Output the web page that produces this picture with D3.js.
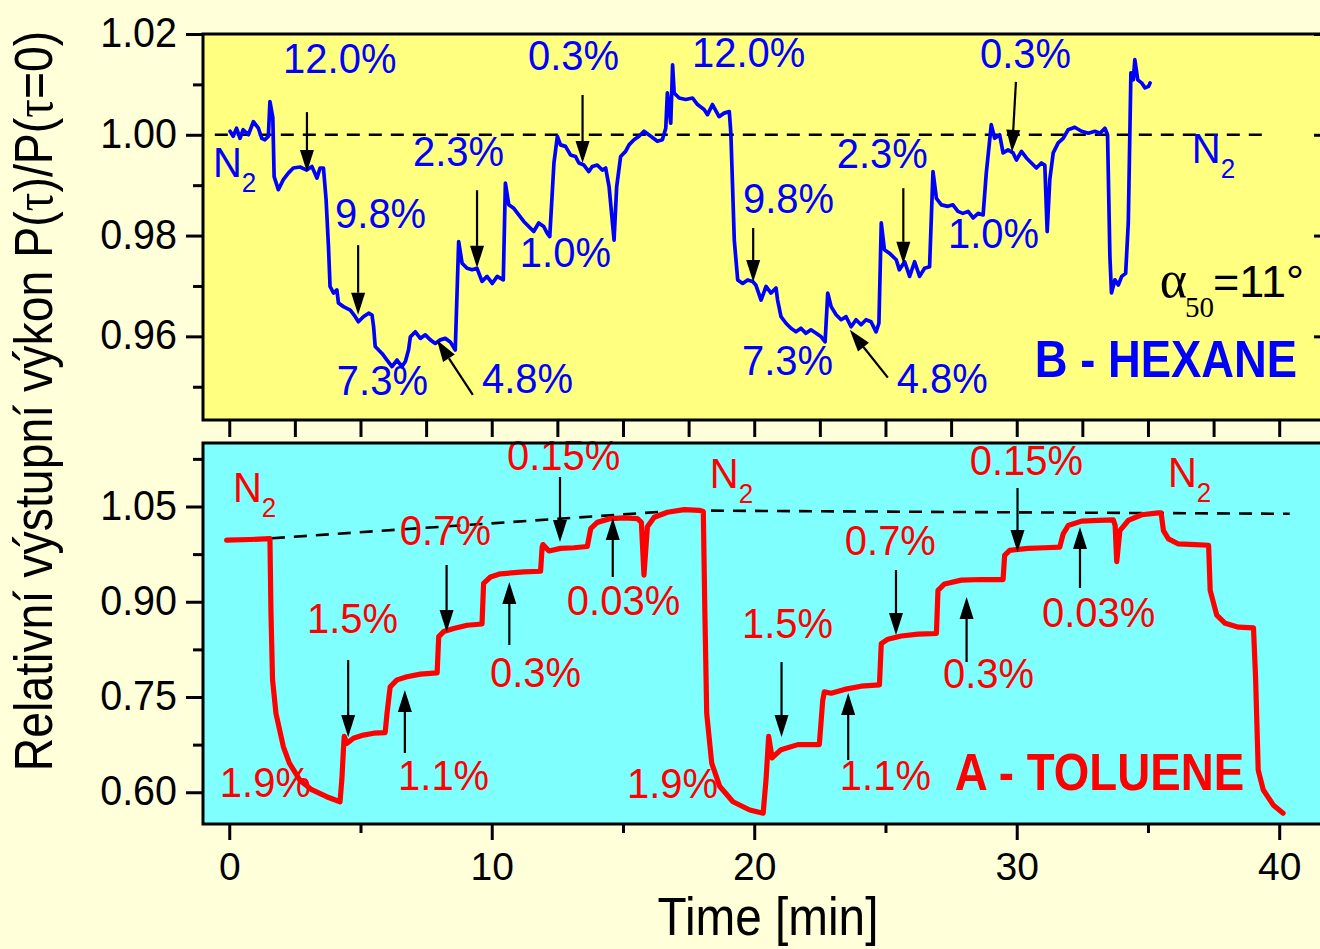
<!DOCTYPE html>
<html><head><meta charset="utf-8">
<script src="https://cdn.jsdelivr.net/npm/d3@7"></script>
<style>html,body{margin:0;padding:0;background:#FFFFDA;} svg{display:block;}</style>
</head><body>
<svg id="c" width="1320" height="949"></svg>
<script>
// ---------------- DATA ----------------
const hexaneTime = [0.03,0.15,0.28,0.41,0.53,0.73,0.92,1.11,1.24,1.36,1.49,1.55,1.66,1.71,1.87,2.06,2.25,2.44,2.70,2.95,3.15,3.34,3.46,3.59,3.69,3.78,3.84,3.97,4.10,4.16,4.35,4.61,4.80,4.92,5.11,5.31,5.44,5.50,5.56,5.82,6.01,6.20,6.39,6.58,6.71,6.83,6.90,7.09,7.28,7.47,7.66,7.85,8.04,8.23,8.42,8.61,8.74,8.87,9.06,9.25,9.44,9.63,9.82,10.02,10.21,10.44,10.52,10.65,10.84,11.03,11.22,11.41,11.60,11.79,11.98,12.11,12.21,12.37,12.50,12.62,12.81,13.00,13.19,13.32,13.51,13.70,13.83,14.02,14.21,14.34,14.47,14.66,14.76,14.91,15.10,15.23,15.42,15.61,15.80,16.06,16.31,16.50,16.63,16.69,16.82,16.89,16.95,17.14,17.39,17.65,17.84,18.09,18.22,18.41,18.66,18.85,19.05,19.11,19.24,19.37,19.56,19.75,19.94,20.06,20.26,20.45,20.64,20.83,20.89,21.02,21.21,21.40,21.59,21.78,21.97,22.16,22.36,22.55,22.70,22.80,22.93,23.12,23.31,23.50,23.69,23.88,24.07,24.26,24.45,24.64,24.75,24.84,24.96,25.15,25.41,25.53,25.73,25.92,26.11,26.30,26.49,26.68,26.81,26.94,27.13,27.38,27.57,27.76,27.95,28.15,28.34,28.53,28.72,28.84,29.03,29.16,29.35,29.48,29.67,29.86,29.99,30.18,30.37,30.56,30.75,30.94,31.07,31.16,31.26,31.39,31.58,31.77,31.96,32.21,32.47,32.73,32.98,33.17,33.36,33.46,33.55,33.61,33.74,33.87,34.00,34.15,34.25,34.35,34.44,34.50,34.61,34.76,34.89,35.02,35.08];
const hexaneValue = [1.0007,0.9997,1.0013,0.9993,1.0010,1.0000,1.0026,1.0013,0.9993,0.9990,0.9997,1.0066,1.0034,0.9917,0.9891,0.9911,0.9924,0.9934,0.9936,0.9930,0.9937,0.9914,0.9934,0.9934,0.9871,0.9778,0.9699,0.9686,0.9692,0.9666,0.9659,0.9652,0.9639,0.9629,0.9639,0.9646,0.9642,0.9619,0.9580,0.9566,0.9553,0.9540,0.9553,0.9540,0.9550,0.9573,0.9599,0.9609,0.9596,0.9603,0.9593,0.9586,0.9593,0.9596,0.9589,0.9573,0.9788,0.9745,0.9735,0.9732,0.9735,0.9709,0.9719,0.9705,0.9719,0.9712,0.9904,0.9861,0.9854,0.9841,0.9828,0.9818,0.9808,0.9825,0.9818,0.9805,0.9798,0.9944,0.9997,0.9980,0.9977,0.9960,0.9957,0.9944,0.9940,0.9927,0.9937,0.9940,0.9930,0.9934,0.9897,0.9791,0.9897,0.9957,0.9967,0.9980,0.9990,0.9997,1.0007,0.9997,0.9987,0.9990,1.0013,1.0083,1.0023,1.0139,1.0083,1.0073,1.0070,1.0073,1.0060,1.0050,1.0040,1.0060,1.0036,1.0043,1.0046,1.0003,0.9791,0.9712,0.9705,0.9712,0.9709,0.9702,0.9672,0.9699,0.9686,0.9696,0.9672,0.9639,0.9626,0.9616,0.9609,0.9616,0.9606,0.9613,0.9606,0.9599,0.9589,0.9686,0.9659,0.9643,0.9633,0.9639,0.9619,0.9633,0.9623,0.9633,0.9629,0.9609,0.9626,0.9825,0.9772,0.9765,0.9752,0.9732,0.9748,0.9719,0.9748,0.9719,0.9735,0.9738,0.9927,0.9874,0.9861,0.9858,0.9861,0.9848,0.9844,0.9848,0.9835,0.9844,0.9841,0.9924,1.0020,0.9993,1.0000,0.9964,0.9970,0.9964,0.9950,0.9967,0.9954,0.9944,0.9934,0.9944,0.9940,0.9808,0.9911,0.9964,0.9984,0.9993,1.0010,1.0015,1.0007,1.0003,1.0007,1.0003,1.0013,1.0000,0.9758,0.9686,0.9712,0.9702,0.9719,0.9725,0.9825,1.0123,1.0109,1.0149,1.0109,1.0103,1.0093,1.0096,1.0103];

const tolueneTime = [-0.10,0.79,1.55,1.59,1.65,1.78,2.06,2.29,2.69,3.14,3.71,4.22,4.29,4.35,4.38,4.48,4.73,5.11,5.50,5.94,6.01,6.13,6.39,6.77,7.28,7.92,7.98,8.17,8.55,9.06,9.63,9.69,9.95,10.33,11.22,11.86,11.92,11.95,12.18,12.62,13.13,13.64,13.77,14.02,14.53,15.04,15.55,15.70,15.80,15.93,16.19,16.69,17.33,17.90,18.06,18.12,18.19,18.38,18.69,19.19,19.83,20.34,20.45,20.55,20.68,21.02,21.66,22.16,22.48,22.61,22.67,22.93,23.44,24.07,24.77,24.84,25.09,25.60,26.24,26.94,27.00,27.25,27.89,28.65,29.48,29.54,29.73,30.44,31.07,31.64,31.77,31.96,32.47,33.11,33.68,33.75,33.81,33.93,34.25,34.76,35.40,35.50,35.59,35.78,36.16,36.79,37.31,37.37,37.62,37.94,38.45,39.02,39.10,39.20,39.39,39.77,40.15];
const tolueneValue = [0.997,0.998,0.9995,0.882,0.777,0.724,0.672,0.646,0.619,0.604,0.593,0.585,0.620,0.667,0.688,0.677,0.685,0.690,0.693,0.694,0.724,0.766,0.777,0.782,0.786,0.788,0.845,0.853,0.858,0.863,0.865,0.929,0.939,0.944,0.947,0.948,0.986,0.990,0.980,0.984,0.985,0.987,1.015,1.025,1.031,1.032,1.031,1.025,0.942,1.018,1.033,1.041,1.045,1.044,1.042,0.882,0.724,0.646,0.609,0.585,0.572,0.567,0.620,0.688,0.654,0.667,0.675,0.675,0.675,0.745,0.758,0.756,0.762,0.767,0.769,0.834,0.841,0.846,0.849,0.850,0.918,0.928,0.934,0.935,0.935,0.973,0.981,0.984,0.985,0.986,1.007,1.020,1.027,1.028,1.029,1.020,0.963,1.012,1.028,1.037,1.040,1.040,1.012,0.999,0.991,0.990,0.989,0.918,0.879,0.866,0.860,0.859,0.780,0.635,0.604,0.580,0.567];

// dashed reference (N2 baseline) lines
const hexaneBaseTime = [-0.55, 39.35];
const hexaneBaseValue = [1.0, 1.0];
const tolueneBaseTime = [0.79, 17.2, 40.4];
const tolueneBaseValue = [0.9977, 1.0437, 1.0385];

// axis ticks
const xTickLabels = [0, 10, 20, 30, 40];
const xTicksBottom = [0, 5, 10, 15, 20, 25, 30, 35, 40];
const xTicksMid = [0,2.5,5,7.5,10,12.5,15,17.5,20,22.5,25,27.5,30,32.5,35,37.5,40];
const hexaneTicks = [0.96, 0.98, 1.00, 1.02];
const hexaneMinor = [0.95, 0.97, 0.99, 1.01];
const tolueneTicks = [0.60, 0.75, 0.90, 1.05];
const tolueneMinor = [0.675, 0.825, 0.975, 1.125];

// annotations (concentration labels) in data coordinates
const hexaneNoteText = ['12.0%','9.8%','7.3%','2.3%','4.8%','1.0%','0.3%','12.0%','9.8%','7.3%','2.3%','4.8%','1.0%','0.3%'];
const hexaneNoteTime = [2.05,4.03,4.10,7.00,9.63,11.07,11.38,17.63,19.57,19.53,23.14,25.43,27.38,28.60];
const hexaneNoteValue = [1.0123,0.9815,0.9484,0.9938,0.9488,0.9738,1.0129,1.0135,0.9845,0.9524,0.9934,0.9488,0.9775,1.0133];
const hexaneArrows = [[2.96,1.0045,2.96,0.9926],[4.91,0.9781,4.91,0.9643],[9.28,0.9484,7.91,0.9593],[9.44,0.9890,9.44,0.9736],[13.46,1.0079,13.46,0.9944],[19.96,0.9815,19.96,0.9708],[25.09,0.9518,23.64,0.9613],[25.68,0.9894,25.68,0.9744],[29.97,1.0105,29.82,0.9966]];
const hexaneN2 = [[-0.62,0.9916],[36.67,0.9944]];

const tolueneNoteText = ['1.9%','1.5%','1.1%','0.7%','0.3%','0.15%','0.03%','1.9%','1.5%','1.1%','0.7%','0.3%','0.15%','0.03%'];
const tolueneNoteTime = [-0.36,2.96,6.43,6.50,9.93,10.58,12.86,15.15,19.53,23.26,23.45,27.19,28.21,30.96];
const tolueneNoteValue = [0.5925,0.8508,0.6035,0.9894,0.7658,1.1075,0.8791,0.591,0.843,0.6035,0.9736,0.7642,1.0996,0.8602];
const tolueneArrows = [[4.53,0.8083,4.53,0.6870],[6.69,0.6618,6.69,0.7610],[8.28,0.9579,8.28,0.8524],[10.67,0.8319,10.67,0.9311],[12.60,1.0965,12.60,0.9941],[14.61,0.939,14.61,1.0319],[21.04,0.8051,21.04,0.687],[23.58,0.6508,23.58,0.7563],[25.40,0.95,25.40,0.8476],[28.09,0.8051,28.09,0.9075],[30.03,1.0791,30.03,0.9783],[32.41,0.9217,32.41,1.0178]];
const tolueneN2 = [[0.14,1.0571],[18.31,1.0791],[35.76,1.0807]];

// ---------------- DRAW ----------------
const SANS = '"Liberation Sans", Arial, Helvetica, sans-serif';
const SERIF = '"Liberation Serif", "Times New Roman", serif';
const BLUE = '#0000FF', RED = '#FF0000';
const svg = d3.select('#c');
svg.append('rect').attr('width', 1320).attr('height', 949).attr('fill', '#FFFFDA');

const x = d3.scaleLinear().domain([-1, 41.63]).range([203, 1322]);
const yTop = d3.scaleLinear().domain([0.9434, 1.02]).range([420, 34]);
const yBot = d3.scaleLinear().domain([0.55, 1.15]).range([824, 443]);

const [xl, xr] = x.range();
// panel backgrounds
svg.append('rect').attr('x', xl).attr('y', yTop.range()[1]).attr('width', xr - xl).attr('height', yTop.range()[0] - yTop.range()[1]).attr('fill', '#FFFF80');
svg.append('rect').attr('x', xl).attr('y', yBot.range()[1]).attr('width', xr - xl).attr('height', yBot.range()[0] - yBot.range()[1]).attr('fill', '#80FFFF');

function addText(g, px, py, o) {
  return g.append('text')
    .attr('transform', `translate(${px},${py}) scale(${o.sx ?? 0.93},1)`)
    .attr('text-anchor', o.anchor || 'start')
    .attr('font-family', o.family || SANS)
    .attr('font-size', o.size || 43)
    .attr('font-weight', o.weight || 'normal')
    .attr('fill', o.fill || '#000');
}
function arrow(g, x1, y1, x2, y2) {
  const dx = x2 - x1, dy = y2 - y1, L = Math.hypot(dx, dy);
  const ux = dx / L, uy = dy / L, hl = 22, hw = 7;
  const bx = x2 - ux * hl, by = y2 - uy * hl;
  g.append('line').attr('x1', x1).attr('y1', y1).attr('x2', bx).attr('y2', by)
    .attr('stroke', '#000').attr('stroke-width', 2.2);
  g.append('path').attr('d', `M${x2},${y2}L${bx - uy * hw},${by + ux * hw}L${bx + uy * hw},${by - ux * hw}Z`).attr('fill', '#000');
}
function n2(g, px, py, color) {
  const t = addText(g, px, py, {fill: color, size: 43, sx: 0.93});
  t.append('tspan').text('N');
  t.append('tspan').attr('font-size', 28).attr('dy', 15).text('2');
}

function panel(y, times, values, baseT, baseV, color, width, noteText, noteT, noteV, arrows, n2s) {
  const g = svg.append('g');
  const base = baseT.map((t, i) => [t, baseV[i]]);
  g.append('path').datum(base)
    .attr('d', d3.line().x(d => x(d[0])).y(d => y(d[1])))
    .attr('fill', 'none').attr('stroke', '#000').attr('stroke-width', 2.6).attr('stroke-dasharray', '13,9');
  const pts = times.map((t, i) => [t, values[i]]).filter(d => d[1] !== undefined);
  g.append('path').datum(pts)
    .attr('d', d3.line().x(d => x(d[0])).y(d => y(d[1])))
    .attr('fill', 'none').attr('stroke', color).attr('stroke-width', width)
    .attr('stroke-linejoin', 'round').attr('stroke-linecap', 'round');
  noteText.forEach((s, i) => addText(g, x(noteT[i]), y(noteV[i]), {fill: color}).text(s));
  arrows.forEach(a => arrow(g, x(a[0]), y(a[1]), x(a[2]), y(a[3])));
  n2s.forEach(p => n2(g, x(p[0]), y(p[1]), color));
  return g;
}

panel(yTop, hexaneTime, hexaneValue, hexaneBaseTime, hexaneBaseValue, BLUE, 3.7,
  hexaneNoteText, hexaneNoteTime, hexaneNoteValue, hexaneArrows, hexaneN2);
panel(yBot, tolueneTime, tolueneValue, tolueneBaseTime, tolueneBaseValue, RED, 5.2,
  tolueneNoteText, tolueneNoteTime, tolueneNoteValue, tolueneArrows, tolueneN2);

// panel titles
addText(svg, x(30.69), yTop(0.952), {fill: BLUE, size: 51, weight: 'bold', sx: 0.89}).text('B - HEXANE');
addText(svg, x(27.64), yBot(0.6035), {fill: RED, size: 51, weight: 'bold', sx: 0.896}).text('A - TOLUENE');
// alpha label
{
  const px = x(35.45), py = yTop(0.9678);
  const t = svg.append('text').attr('transform', `translate(${px},${py})`).attr('fill', '#000');
  t.append('tspan').attr('font-family', SERIF).attr('font-size', 52).text('α');
  t.append('tspan').attr('font-family', SERIF).attr('font-size', 29).attr('dy', 20).attr('dx', -2).text('50');
  t.append('tspan').attr('font-family', SANS).attr('font-size', 45).attr('dy', -20).attr('dx', -1).text('=11°');
}

// frames
[yTop, yBot].forEach(y => {
  svg.append('rect').attr('x', xl).attr('y', y.range()[1]).attr('width', xr - xl).attr('height', y.range()[0] - y.range()[1])
    .attr('fill', 'none').attr('stroke', '#000').attr('stroke-width', 3);
});

function styleAxis(g) {
  g.select('.domain').remove();
  g.selectAll('.tick line').attr('stroke', '#000').attr('stroke-width', 3);
}
// y axes
function yAxis(y, major, minor) {
  const gMin = svg.append('g').attr('transform', `translate(${xl},0)`)
    .call(d3.axisLeft(y).tickValues(minor).tickSize(10).tickFormat(''));
  styleAxis(gMin);
  const g = svg.append('g').attr('transform', `translate(${xl},0)`)
    .call(d3.axisLeft(y).tickValues(major).tickSize(17).tickFormat(d3.format('.2f')));
  styleAxis(g);
  g.selectAll('.tick text').attr('x', null).attr('dy', '0.3em')
    .attr('transform', 'translate(-26,0) scale(0.94,1)')
    .attr('font-family', SANS).attr('font-size', 42).attr('fill', '#000');
}
yAxis(yTop, hexaneTicks, hexaneMinor);
yAxis(yBot, tolueneTicks, tolueneMinor);
// right inner ticks on top panel
svg.append('g').attr('transform', `translate(${xr},0)`)
  .call(d3.axisLeft(yTop).tickValues(hexaneTicks).tickSize(8).tickFormat('')).call(styleAxis);

// x ticks under top panel
svg.append('g').attr('transform', `translate(0,${yTop.range()[0]})`)
  .call(d3.axisBottom(x).tickValues(xTicksMid).tickSize(17).tickFormat('')).call(styleAxis);
// bottom x axis
svg.append('g').attr('transform', `translate(0,${yBot.range()[0]})`)
  .call(d3.axisBottom(x).tickValues(xTicksBottom.filter(d => !xTickLabels.includes(d))).tickSize(9).tickFormat('')).call(styleAxis);
const gx = svg.append('g').attr('transform', `translate(0,${yBot.range()[0]})`)
  .call(d3.axisBottom(x).tickValues(xTickLabels).tickSize(16).tickFormat(d3.format('d')));
styleAxis(gx);
gx.selectAll('.tick text').attr('y', null).attr('dy', null).attr('transform', 'translate(0,56)')
  .attr('font-family', SANS).attr('font-size', 39).attr('fill', '#000');

// axis titles
addText(svg, 768, 935, {size: 53, sx: 0.9, anchor: 'middle'}).text('Time [min]');
{
  const t = svg.append('text').attr('transform', 'translate(52,401) rotate(-90) scale(0.86,1)')
    .attr('text-anchor', 'middle').attr('font-family', SANS).attr('font-size', 54).attr('fill', '#000');
  t.append('tspan').text('Relativní výstupní výkon P(');
  t.append('tspan').attr('font-family', SERIF).text('τ');
  t.append('tspan').text(')/P(');
  t.append('tspan').attr('font-family', SERIF).text('τ');
  t.append('tspan').text('=0)');
}
</script>
</body></html>
